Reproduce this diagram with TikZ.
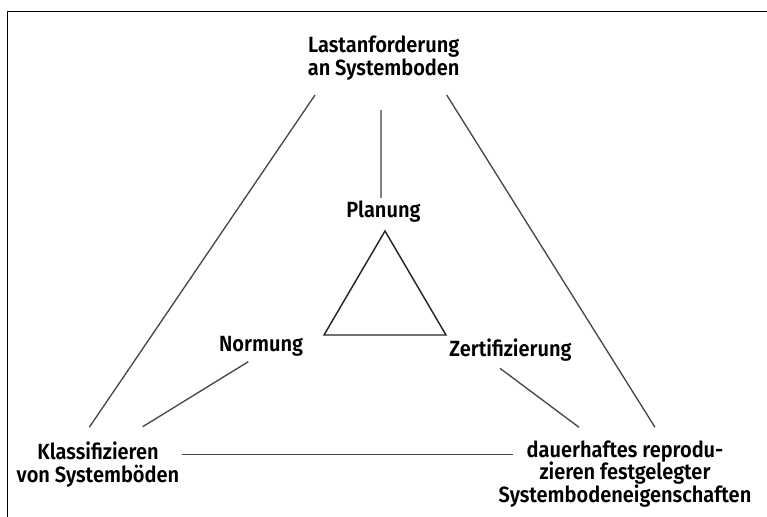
\documentclass[tikz,border=0pt]{standalone}
\usepackage{fontspec}
\setmainfont{Fira Sans SemiBold}[FakeStretch=0.91]
\usepackage{tikz}

\begin{document}
\begin{tikzpicture}[every node/.style={align=center, inner sep=0pt, font=\fontsize{16.5}{17}\selectfont},
		conn/.style={draw=black!72, line width=1pt}, x=0.75pt, y=-0.75pt]
		\useasboundingbox (0, 0) rectangle (767, 517);
		\draw [line width=1pt] (7.3, 517) |- (767, 11.7);

		\node at (383.7, 58) (last) {Lastanforderung\\an Systemboden};
		\node at (383.5, 212) (plan) {Planung};
		\node at (261, 346) (norm) {Normung};
		\node at (510.5, 350.5) (zert) {Zertifizierung};
		\node at (98, 464.5) (klass) {Klassifizieren\\von Systemböden};
		\node at (625, 474) (dauer) {dauerhaftes reprodu-\\zieren festgelegter\\Systembodeneigenschaften};

		\coordinate (tri1) at (385, 231);
		\coordinate (tri2) at (324, 335);
		\coordinate (tri3) at (446, 335);
		\draw [line width=1.1pt, draw=black!85] (tri1) -- (tri2) -- (tri3) -- cycle;

		\coordinate (lastL) at (315, 95);
		\coordinate (lastR) at (446.7, 95);
		\coordinate (lastM) at (380.7, 110);
		\coordinate (planM) at (380.7, 198);
		\coordinate (klassT) at (89.3, 427.3);
		\coordinate (klassR) at (181.7, 454.3);
		\coordinate (dauerT) at (655, 427.3);
		\coordinate (dauerL) at (513.3, 454.3);
		\coordinate (normB) at (248.3, 361.7);
		\coordinate (normE) at (142.7, 426.7);
		\coordinate (zertB) at (500, 368.3);
		\coordinate (zertE) at (579, 427.3);

		\draw [conn] (lastL) -- (klassT);
		\draw [conn] (lastR) -- (dauerT);
		\draw [conn, draw=black!50, line width=1.2pt] (lastM) -- (planM);
		\draw [conn] (normB) -- (normE);
		\draw [conn] (zertB) -- (zertE);
		\draw [conn] (klassR) -- (dauerL);
	\end{tikzpicture}
\end{document}
